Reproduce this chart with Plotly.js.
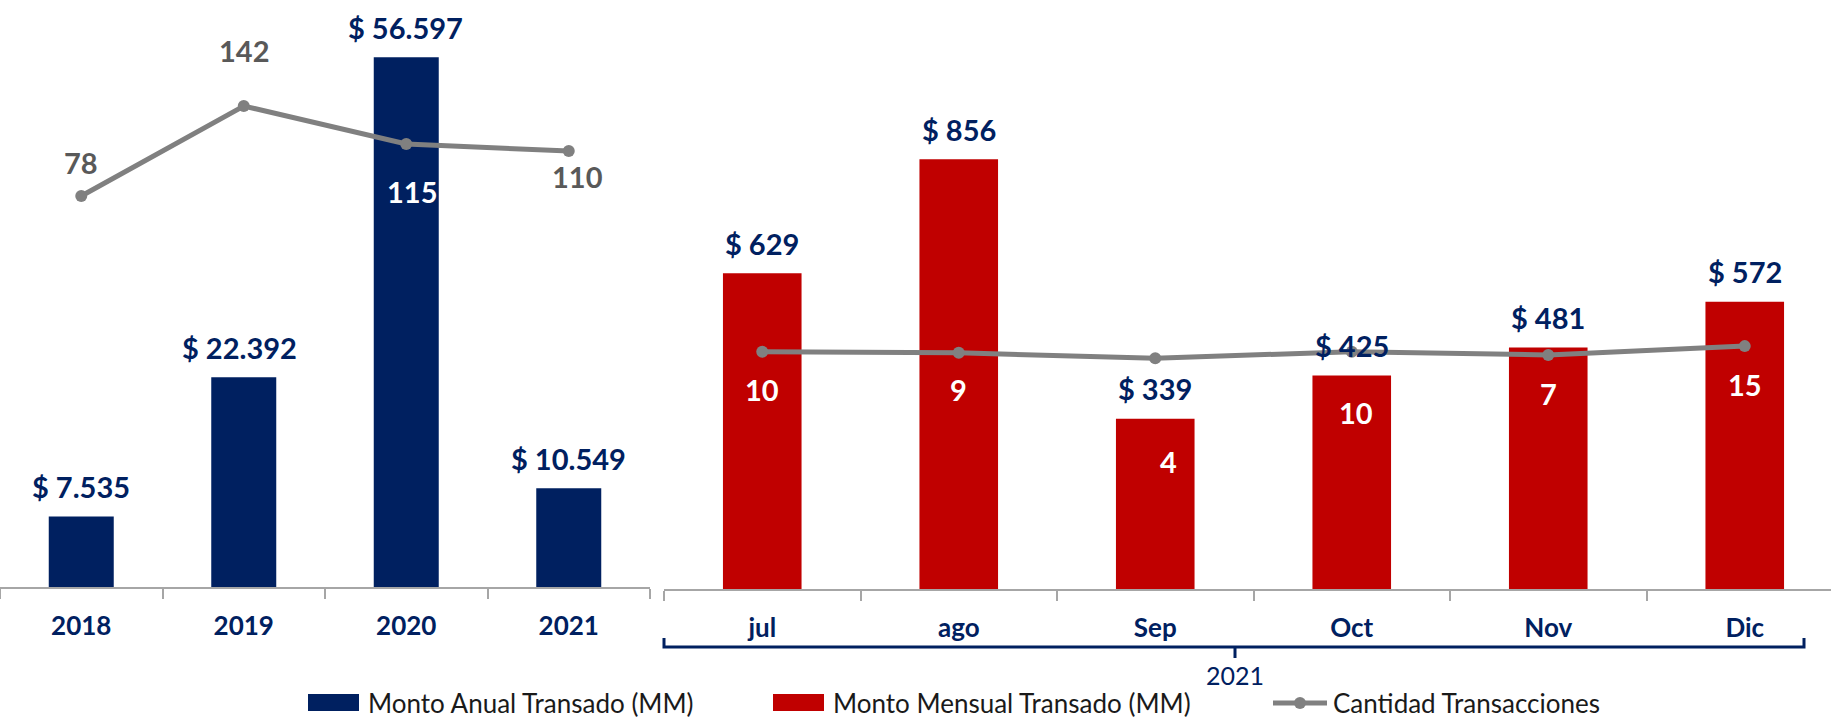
<!DOCTYPE html>
<html>
<head>
<meta charset="utf-8">
<script src="https://cdn.plot.ly/plotly-3.0.1.min.js"></script>
<style>html,body{margin:0;padding:0;background:#fff;}#chart{width:1831px;height:721px;}</style>
</head>
<body>
<div id="chart"></div>
<script>
// ---- data ----
const years = ['2018', '2019', '2020', '2021'];
const annualAmount = [7535, 22392, 56597, 10549];
const annualCount = [78, 142, 115, 110];

const months = ['jul', 'ago', 'Sep', 'Oct', 'Nov', 'Dic'];
const monthlyAmount = [629, 856, 339, 425, 481, 572];
const monthlyCount = [10, 9, 4, 10, 7, 15];

const groupLabel = '2021';
const seriesNames = ['Monto Anual Transado (MM)', 'Monto Mensual Transado (MM)', 'Cantidad Transacciones'];

// ---- styling / placement (not data) ----
const W = 1831, H = 721;
const px = x => x / W;
const py = y => 1 - y / H;
const NAVY = '#002060', RED = '#C00000', GRAY = '#808080';
const FONT = 'Lato, "Open Sans", sans-serif';

const annualLabelShiftX = [0, -4, -1, 0];
const annualCountShift = [[0, 34], [0, 56], [6, -47], [9, -25]];
const annualCountColor = ['#595959', '#595959', '#ffffff', '#595959'];
const monthlyCountShift = [[0, -38], [0, -37], [13, -103], [4, -61], [0, -38], [0, -38]];

function fmt(v) { return '$ ' + String(v).replace(/\B(?=(\d{3})+(?!\d))/g, '.'); }

const traces = [
  { type: 'bar', x: years, y: annualAmount, xaxis: 'x', yaxis: 'y', width: 0.4,
    marker: { color: NAVY }, name: seriesNames[0], hoverinfo: 'skip', showlegend: false },
  { type: 'scatter', mode: 'lines+markers', x: years, y: annualCount, xaxis: 'x', yaxis: 'y2',
    line: { color: GRAY, width: 5 }, marker: { color: GRAY, size: 12 }, name: seriesNames[2],
    hoverinfo: 'skip', showlegend: false, cliponaxis: false },
  { type: 'bar', x: months, y: monthlyAmount, xaxis: 'x2', yaxis: 'y3', width: 0.4,
    marker: { color: RED }, name: seriesNames[1], hoverinfo: 'skip', showlegend: false },
  { type: 'scatter', mode: 'lines+markers', x: months, y: monthlyCount, xaxis: 'x2', yaxis: 'y4',
    line: { color: GRAY, width: 5 }, marker: { color: GRAY, size: 12 }, name: seriesNames[2],
    hoverinfo: 'skip', showlegend: false, cliponaxis: false }
];

const annotations = [];
// category positions given by index (category axis)
annualAmount.forEach((v, i) => annotations.push({
  xref: 'x', yref: 'y', x: i, y: v, text: fmt(v), showarrow: false,
  yanchor: 'middle', yshift: 30, xshift: annualLabelShiftX[i],
  font: { family: FONT, size: 29, color: NAVY, weight: 700 }
}));
annualCount.forEach((v, i) => annotations.push({
  xref: 'x', yref: 'y2', x: i, y: v, text: String(v), showarrow: false,
  yanchor: 'middle', xshift: annualCountShift[i][0], yshift: annualCountShift[i][1],
  font: { family: FONT, size: 29, color: annualCountColor[i], weight: 700 }
}));
monthlyAmount.forEach((v, i) => annotations.push({
  xref: 'x2', yref: 'y3', x: i, y: v, text: fmt(v), showarrow: false,
  yanchor: 'middle', yshift: 30,
  font: { family: FONT, size: 29, color: NAVY, weight: 700 }
}));
monthlyCount.forEach((v, i) => annotations.push({
  xref: 'x2', yref: 'y4', x: i, y: v, text: String(v), showarrow: false,
  yanchor: 'middle', xshift: monthlyCountShift[i][0], yshift: monthlyCountShift[i][1],
  font: { family: FONT, size: 29, color: '#ffffff', weight: 700 }
}));
// group label under the bracket
annotations.push({ xref: 'paper', yref: 'paper', x: px(1235), y: py(675), text: groupLabel,
  showarrow: false, xanchor: 'center', yanchor: 'middle',
  font: { family: FONT, size: 25, color: NAVY } });
// manual legend texts
const LEG_Y = 703;
const legendItems = [
  { x: 366, text: seriesNames[0] },
  { x: 831, text: seriesNames[1] },
  { x: 1331, text: seriesNames[2] }
];
legendItems.forEach(it => annotations.push({ xref: 'paper', yref: 'paper', x: px(it.x), y: py(LEG_Y),
  text: it.text, showarrow: false, xanchor: 'left', yanchor: 'middle',
  font: { family: FONT, size: 26, color: '#1a1a1a' } }));

const shapes = [
  // bracket for 2021 group
  { type: 'path', xref: 'paper', yref: 'paper',
    path: `M ${px(664)} ${py(638)} L ${px(664)} ${py(647)} L ${px(1804)} ${py(647)} L ${px(1804)} ${py(638)} M ${px(1235)} ${py(647)} L ${px(1235)} ${py(658)}`,
    line: { color: NAVY, width: 3 } },
  // legend swatches
  { type: 'rect', xref: 'paper', yref: 'paper', x0: px(308), x1: px(359), y0: py(LEG_Y + 8), y1: py(LEG_Y - 9),
    fillcolor: NAVY, line: { width: 0 } },
  { type: 'rect', xref: 'paper', yref: 'paper', x0: px(773), x1: px(824), y0: py(LEG_Y + 8), y1: py(LEG_Y - 9),
    fillcolor: RED, line: { width: 0 } },
  { type: 'line', xref: 'paper', yref: 'paper', x0: px(1273), x1: px(1327), y0: py(LEG_Y), y1: py(LEG_Y),
    line: { color: GRAY, width: 5 } },
  { type: 'circle', xref: 'paper', yref: 'paper', x0: px(1294), x1: px(1306), y0: py(LEG_Y + 6), y1: py(LEG_Y - 6),
    fillcolor: GRAY, line: { width: 0 } }
];

const axisX = {
  type: 'category', showgrid: false, zeroline: false, showline: true, linecolor: '#a6a6a6', linewidth: 2,
  ticks: 'outside', tickson: 'boundaries', ticklen: 10, tickwidth: 2, tickcolor: '#a6a6a6',
  ticklabelstandoff: 15,
  tickfont: { family: FONT, size: 26, color: NAVY, weight: 700 }, fixedrange: true
};

const layout = {
  width: W, height: H, margin: { l: 0, r: 0, t: 0, b: 0 },
  paper_bgcolor: '#ffffff', plot_bgcolor: 'rgba(0,0,0,0)', showlegend: false,
  xaxis: Object.assign({}, axisX, { domain: [0, px(650)], range: [-0.5, 3.5], anchor: 'y' }),
  xaxis2: Object.assign({}, axisX, { domain: [px(664), 1], range: [-0.5, -0.5 + (W - 664) / 196.5], anchor: 'y3' }),
  yaxis: { domain: [py(587), 1], range: [0, 62700], visible: false, anchor: 'x', fixedrange: true },
  yaxis2: { overlaying: 'y', range: [-200, 217.4], visible: false, anchor: 'x', fixedrange: true },
  yaxis3: { domain: [py(589), 1], range: [0, 1173], visible: false, anchor: 'x2', fixedrange: true },
  yaxis4: { overlaying: 'y3', range: [-203.8, 326.8], visible: false, anchor: 'x2', fixedrange: true },
  annotations: annotations,
  shapes: shapes
};

Plotly.newPlot('chart', traces, layout, { displayModeBar: false, staticPlot: true });
</script>
</body>
</html>
